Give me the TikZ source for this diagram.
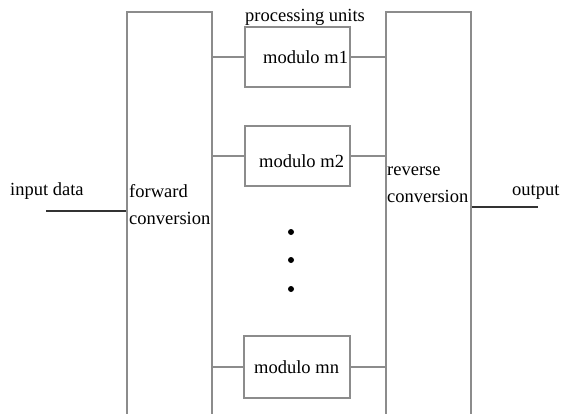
\documentclass[tikz,border=0pt]{standalone}
\usepackage{fontspec}
\setmainfont{Liberation Serif}
\begin{document}
\begin{tikzpicture}[x=1pt,y=-1pt,
  blockline/.style={draw=black!45,line width=1.4pt},
  convbox/.style={blockline,rectangle,minimum width=85pt,minimum height=406pt,inner sep=0pt},
  modbox/.style={blockline,rectangle,minimum width=105pt,minimum height=60pt,inner sep=0pt},
  wire/.style={draw=black!45,line width=1.4pt},
  ioline/.style={draw=black!80,line width=1.5pt},
  lbl/.style={inner sep=0pt,anchor=base west,font=\fontsize{18.5}{22}\selectfont},
  dotmark/.style={circle,fill=black,inner sep=0pt,minimum size=6pt}]
\useasboundingbox (0,0) rectangle (561,413);
\clip (0,0) rectangle (561,413);

% conversion stages
\node[convbox] (fwd) at (169.5,215) {};
\node[convbox] (rev) at (428.5,215) {};

% modular processing units
\node[modbox] (m1) at (297.5,57) {};
\node[modbox] (m2) at (297.5,156) {};
\node[modbox,minimum width=106pt,minimum height=62pt] (mn) at (297,367) {};

\node[lbl] (t1) at (263,63) {modulo m1};
\node[lbl] (t2) at (259,167) {modulo m2};
\node[lbl] (tn) at (254,373) {modulo mn};
\node[lbl] (pu) at (245,21) {processing units};

% vertical ellipsis
\node[dotmark] (d1) at (291,232) {};
\node[dotmark] (d2) at (291,260) {};
\node[dotmark] (d3) at (291,289) {};

% links between stages and units
\foreach \m in {m1,m2,mn}{
  \draw[wire] (\m.west) -- (\m.west -| fwd.east);
  \draw[wire] (\m.east) -- (\m.east -| rev.west);
}

% stage labels
\node[lbl] (fl1) at (129,197) {forward};
\node[lbl] (fl2) at (129,224) {conversion};
\node[lbl] (rl1) at (387,175) {reverse};
\node[lbl] (rl2) at (387,202) {conversion};

% input and output
\node[lbl] (inp) at (10,195) {input data};
\node[lbl] (outp) at (512,195) {output};
\coordinate (inend) at (46,211);
\coordinate (outend) at (538,207);
\draw[ioline] (inend) -- (inend -| fwd.west);
\draw[ioline] (outend -| rev.east) -- (outend);
\end{tikzpicture}
\end{document}
